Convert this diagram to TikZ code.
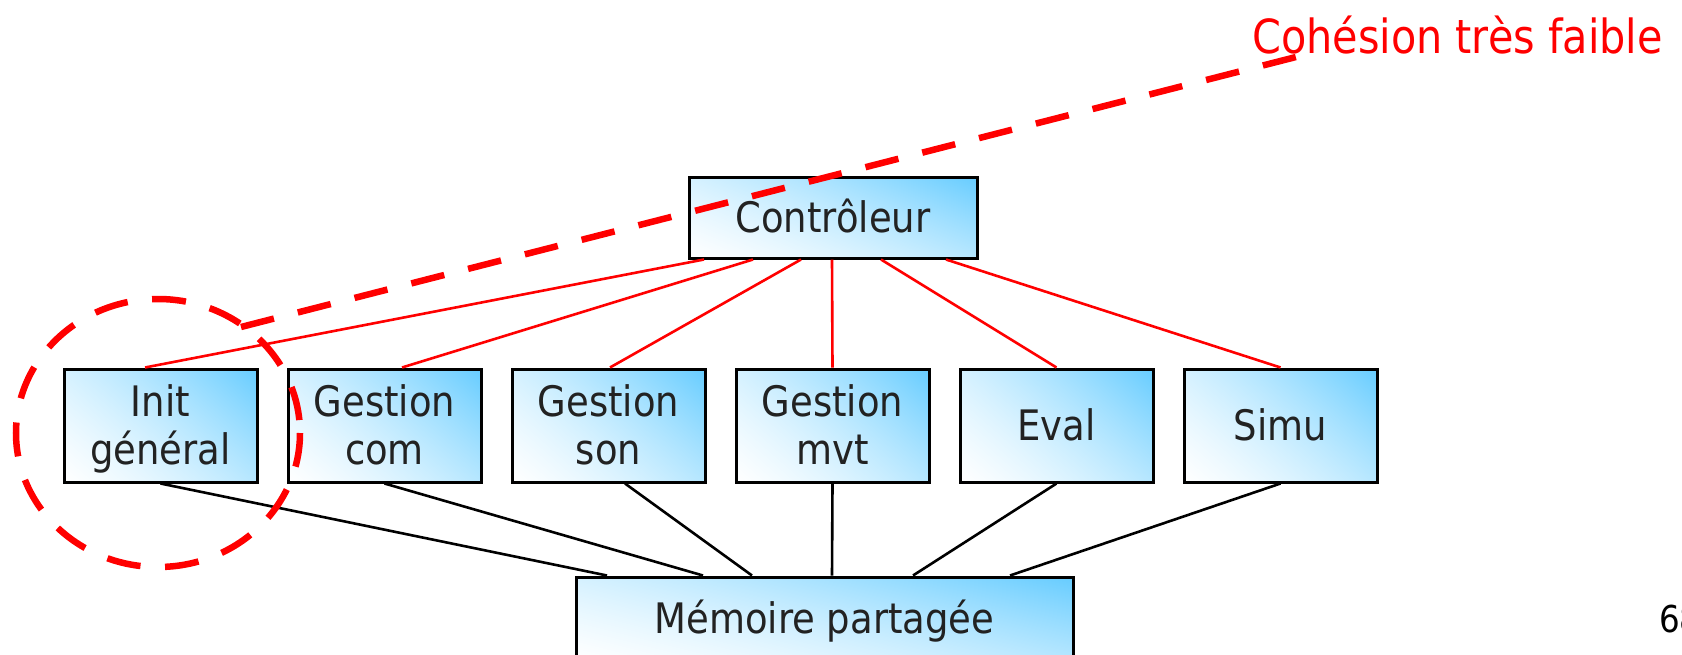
\documentclass[tikz,border=0pt]{standalone}
\usepackage{fontspec}
\setmainfont{DejaVu Sans}[FakeStretch=0.88]
\usetikzlibrary{calc}
\definecolor{textgray}{RGB}{34,34,34}
\definecolor{alert}{RGB}{255,0,0}
% diagonal fill: white in the lower left corner, sky blue in the upper right corner
\pgfdeclarefunctionalshading{boxgrad}{\pgfpoint{0bp}{0bp}}{\pgfpoint{100bp}{100bp}}{}{%
  0.4 mul exch 0.6 mul add 25 sub 50 div
  dup dup mul 0.5 mul exch 0.5 mul add
  dup 0.6 mul 1 exch sub exch 0.2 mul 1 exch sub 1}
\tikzset{
  module/.style={draw=black, line width=3pt, shade, shading=boxgrad, shading angle=0,
    minimum width=193pt, minimum height=113pt, inner sep=0pt,
    align=center, text=textgray, font=\fontsize{42}{48}\selectfont},
  oneline/.style={text height=30.6pt, text depth=0pt},
  twoline/.style={text height=78.6pt, text depth=0pt},
  calls/.style={draw=alert, line width=2.6pt},
  shares/.style={draw=black, line width=2.6pt},
  remark/.style={draw=alert, line width=6.5pt, dash pattern=on 34pt off 24.6pt},
}
\begin{document}
\begin{tikzpicture}[x=1pt, y=-1pt]
\useasboundingbox (0,0) rectangle (1682,654);
\clip (0,0) rectangle (1682,654);

% controller and shared memory
\node[module, oneline, minimum width=288pt, minimum height=81pt] (ctrl) at (833,217.5) {Contrôleur};
\node[module, oneline, minimum width=497pt, minimum height=83pt] (mem) at (824.5,618.5) {Mémoire partagée};

% modules
\node[module, twoline] (init) at (160.5,425.5) {Init\\général};
\node[module, twoline] (com)  at (384.5,425.5) {Gestion\\com};
\node[module, twoline] (son)  at (608.5,425.5) {Gestion\\son};
\node[module, twoline] (mvt)  at (832.5,425.5) {Gestion\\mvt};
\node[module, oneline] (eval) at (1056.5,425.5) {Eval};
\node[module, oneline] (simu) at (1280.5,425.5) {Simu};

% control links
\draw[calls] ($(ctrl.south)+(-129,0)$) -- ($(init.north)+(-15.5,0)$);
\draw[calls] ($(ctrl.south)+(-80,0)$)  -- ($(com.north)+(17.5,0)$);
\draw[calls] ($(ctrl.south)+(-32,0)$)  -- ($(son.north)+(1.5,0)$);
\draw[calls] ($(ctrl.south)+(-1,0)$)   -- (mvt.north);
\draw[calls] ($(ctrl.south)+(48,0)$)   -- (eval.north);
\draw[calls] ($(ctrl.south)+(113,0)$)  -- (simu.north);

% shared memory links
\draw[shares] (init.south) -- ($(mem.north)+(-217.5,0)$);
\draw[shares] (com.south)  -- ($(mem.north)+(-121.5,0)$);
\draw[shares] ($(son.south)+(16.5,0)$) -- ($(mem.north)+(-72.5,0)$);
\draw[shares] (mvt.south)  -- ($(mem.north)+(7.5,0)$);
\draw[shares] (eval.south) -- ($(mem.north)+(88.5,0)$);
\draw[shares] (simu.south) -- ($(mem.north)+(185.5,0)$);

% annotation
\node[anchor=base west, inner sep=0pt, text=alert, font=\fontsize{47}{50}\selectfont] (note) at (1252,53) {Cohésion très faible};
\draw[remark] (158,433) ellipse [x radius=142, y radius=134];
\coordinate (tail) at (241,327);
\draw[remark] (tail) -- ($(note.base west)+(44,4)$);

% page number
\node[anchor=base west, inner sep=0pt, text=black, font=\fontsize{37}{40}\selectfont] (page) at (1659,632) {68};
\end{tikzpicture}
\end{document}
